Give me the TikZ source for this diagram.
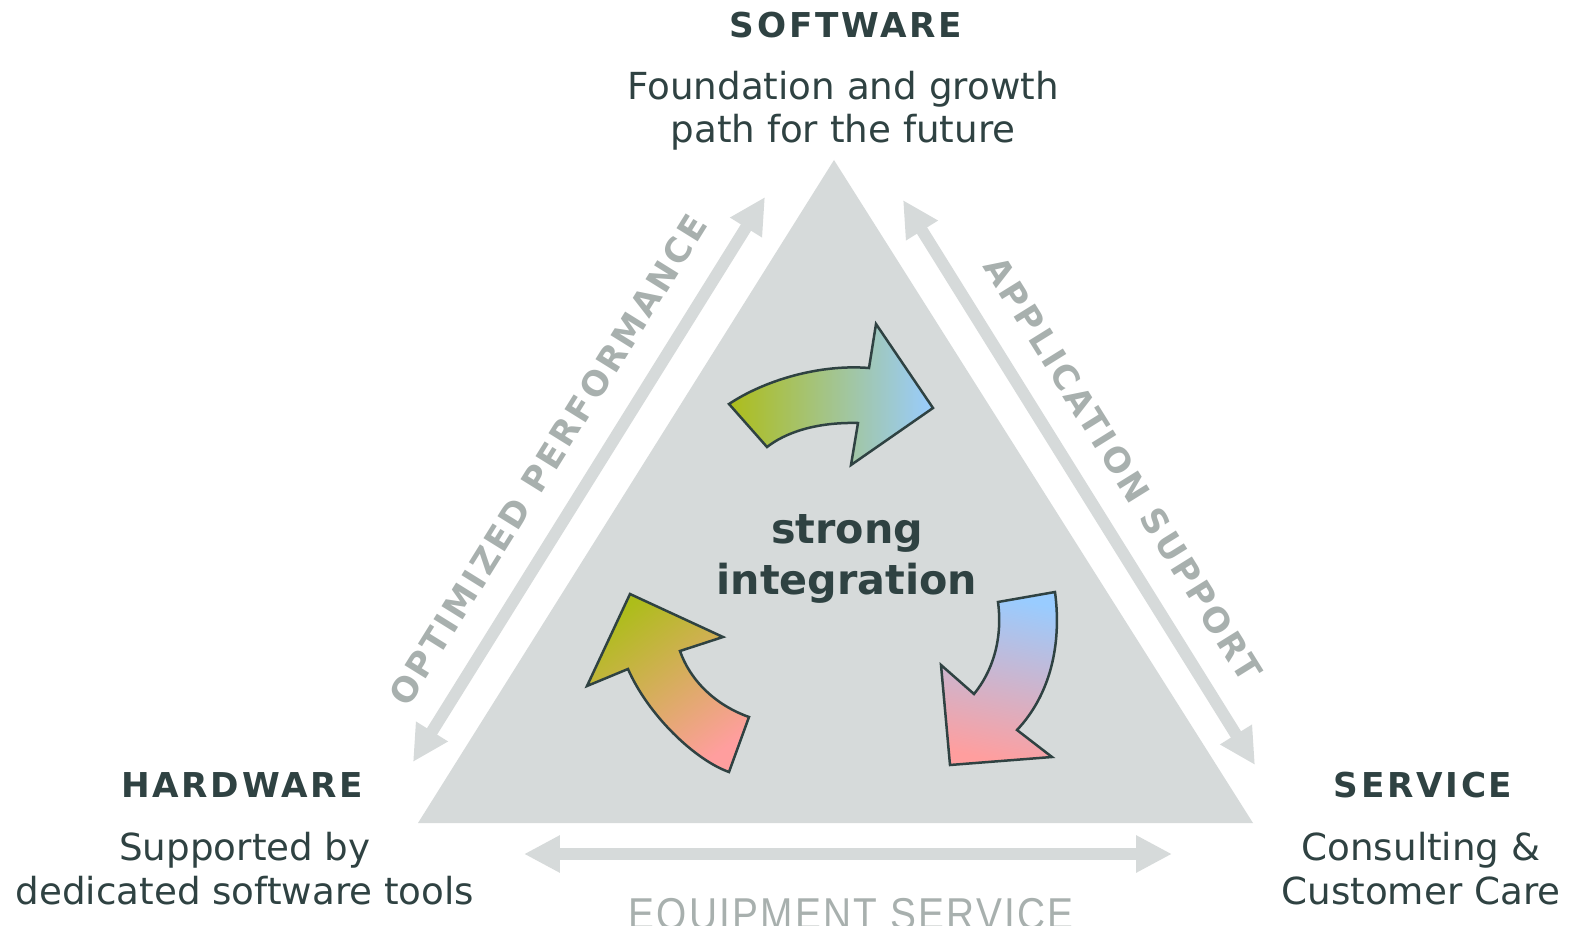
\documentclass[tikz,border=0pt]{standalone}
\usepackage{fontspec}
\setmainfont{DejaVu Sans}
\newfontfamily\capfont[LetterSpace=8]{DejaVu Sans}
\newfontfamily\narrowfont[FakeStretch=0.87,LetterSpace=5]{Liberation Sans}
\usetikzlibrary{arrows.meta}
\definecolor{slate}{HTML}{2F4242}
\definecolor{panel}{HTML}{D6DADA}
\definecolor{labelgray}{HTML}{A8B0AE}
\definecolor{lime}{HTML}{ADBD1A}
\definecolor{sky}{HTML}{99CCFF}
\definecolor{rose}{HTML}{FF9E9E}
\tikzset{title/.style = {font={\capfont\bfseries\fontsize{19.5}{22}\selectfont}, text=slate, anchor=base, inner sep=0pt}}
\tikzset{sub/.style = {font={\fontsize{21.2}{25}\selectfont}, text=slate, anchor=base, align=center, inner sep=0pt}}
\tikzset{side/.style = {font={\capfont\bfseries\fontsize{19.5}{22}\selectfont}, text=labelgray, inner sep=0pt}}
\tikzset{garrow/.style = {draw=panel, line width=0.24cm, {Triangle[width=0.7cm, length=0.72cm]}-{Triangle[width=0.7cm, length=0.72cm]}}}
\tikzset{cyclearrow/.style = {draw=slate, line width=0.05cm, line join=miter}}

\begin{document}
\begin{tikzpicture}[x=0.02cm, y=-0.02cm]
    \useasboundingbox (0,0) rectangle (1573,926);

    % triangle
    \fill[panel] (834,160) -- (418,823) -- (1253,823) -- cycle;

    % double arrows on the sides
    \coordinate (la1) at (413,762);
    \coordinate (la2) at (765,197);
    \coordinate (ra1) at (903,200);
    \coordinate (ra2) at (1255,765);
    \coordinate (ba1) at (524,854);
    \coordinate (ba2) at (1172,854);
    \draw[garrow] (la1) -- (la2);
    \draw[garrow] (ra1) -- (ra2);
    \draw[garrow] (ba1) -- (ba2);

    \node[side, rotate=58.1] (perf) at (548,460) {OPTIMIZED PERFORMANCE};
    \node[side, rotate=-58.1] (appl) at (1123,469) {APPLICATION SUPPORT};
    \node[anchor=base, inner sep=0pt, text=labelgray, font={\narrowfont\fontsize{25.4}{30}\selectfont}] (equip) at (851,929) {EQUIPMENT SERVICE};

    % corners (multi-line nodes sit on their last baseline)
    \node[title] (soft) at (846,38) {SOFTWARE};
    \node[sub] (softtxt) at (843,143) {Foundation and growth\\path for the future};
    \node[title] (hard) at (242,797) {HARDWARE};
    \node[sub] (hardtxt) at (245,904) {Supported by\\dedicated software tools};
    \node[title] (serv) at (1423,797) {SERVICE};
    \node[sub] (servtxt) at (1421,904) {Consulting \&\\Customer Care};

    % cycle arrows
    \draw[cyclearrow, left color=lime, right color=sky]
        (729,404) .. controls (765,380) and (820,364) .. (869,368) -- (876,324) -- (933,408)
        -- (851,465) -- (858,423) .. controls (815,422) and (785,433) .. (767,447) -- cycle;
    \draw[cyclearrow, top color=sky, bottom color=rose, shading angle=-12]
        (998,602) -- (1055,592) .. controls (1062,645) and (1050,695) .. (1017,730) -- (1052,757)
        -- (950,765) -- (941,665) -- (974,694) .. controls (992,672) and (1003,640) .. (998,602) -- cycle;
    \draw[cyclearrow, top color=lime, bottom color=rose, shading angle=36]
        (729,772) .. controls (695,760) and (648,715) .. (628,669) -- (587,686) -- (630,594)
        -- (723,637) -- (680,651) .. controls (690,680) and (715,705) .. (749,717) -- cycle;

    \node[anchor=base, inner sep=0pt, text=slate, align=center,
          font={\bfseries\fontsize{23.5}{28.5}\selectfont}] (core) at (847,594) {strong\\integration};
\end{tikzpicture}
\end{document}
